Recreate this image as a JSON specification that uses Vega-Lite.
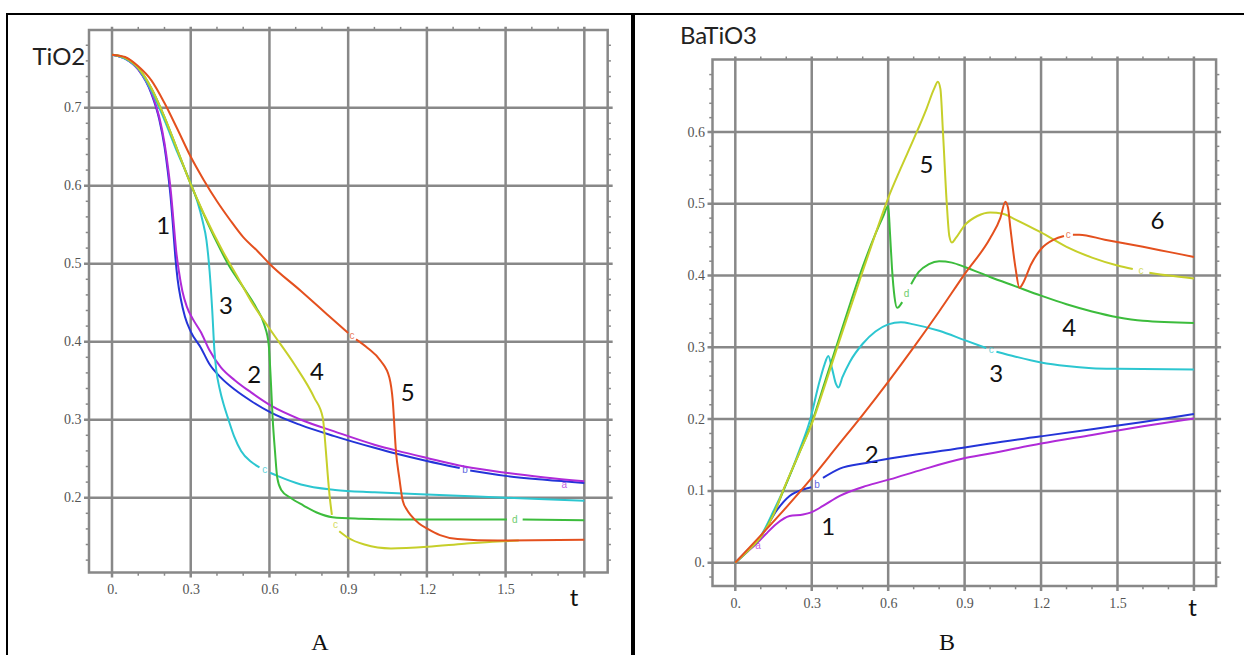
{
  "$schema": "https://vega.github.io/schema/vega-lite/v6.json",
  "background": "white",
  "padding": {"left": 6, "top": 13, "right": 0, "bottom": 0},
  "spacing": 0,
  "config": {
    "view": {"stroke": "black", "strokeWidth": 2},
    "axis": {"grid": false, "domain": false, "ticks": false, "labelFont": "Liberation Serif", "labelFontSize": 14, "labelColor": "#555555", "titleFontWeight": "normal", "titleColor": "#222222"},
    "line": {"strokeWidth": 2}
  },
  "datasets": {
    "curvesA": [
      {"s":"blue","t":0,"v":0.768},{"s":"blue","t":0.05,"v":0.763},{"s":"blue","t":0.1,"v":0.749},{"s":"blue","t":0.15,"v":0.718},{"s":"blue","t":0.18,"v":0.685},{"s":"blue","t":0.2,"v":0.65},{"s":"blue","t":0.212,"v":0.62},{"s":"blue","t":0.222,"v":0.59},{"s":"blue","t":0.232,"v":0.55},{"s":"blue","t":0.241,"v":0.51},{"s":"blue","t":0.25,"v":0.48},{"s":"blue","t":0.262,"v":0.455},{"s":"blue","t":0.278,"v":0.432},{"s":"blue","t":0.3,"v":0.413},{"s":"blue","t":0.339,"v":0.392},{"s":"blue","t":0.37,"v":0.372},{"s":"blue","t":0.415,"v":0.354},{"s":"blue","t":0.47,"v":0.338},{"s":"blue","t":0.53,"v":0.324},{"s":"blue","t":0.606,"v":0.309},{"s":"blue","t":0.72,"v":0.293},{"s":"blue","t":0.847,"v":0.279},{"s":"blue","t":1.0,"v":0.264},{"s":"blue","t":1.089,"v":0.256},{"s":"blue","t":1.2,"v":0.247},{"s":"blue","t":1.325,"v":0.238},{"s":"blue","g":2,"t":1.365,"v":0.235},{"s":"blue","g":2,"t":1.5,"v":0.228},{"s":"blue","g":2,"t":1.65,"v":0.223},{"s":"blue","g":2,"t":1.8,"v":0.219},
      {"s":"purple","t":0,"v":0.768},{"s":"purple","t":0.05,"v":0.763},{"s":"purple","t":0.1,"v":0.749},{"s":"purple","t":0.15,"v":0.72},{"s":"purple","t":0.18,"v":0.688},{"s":"purple","t":0.2,"v":0.655},{"s":"purple","t":0.214,"v":0.622},{"s":"purple","t":0.225,"v":0.59},{"s":"purple","t":0.235,"v":0.552},{"s":"purple","t":0.245,"v":0.515},{"s":"purple","t":0.255,"v":0.49},{"s":"purple","t":0.268,"v":0.465},{"s":"purple","t":0.285,"v":0.445},{"s":"purple","t":0.31,"v":0.428},{"s":"purple","t":0.339,"v":0.412},{"s":"purple","t":0.37,"v":0.39},{"s":"purple","t":0.415,"v":0.367},{"s":"purple","t":0.47,"v":0.35},{"s":"purple","t":0.53,"v":0.335},{"s":"purple","t":0.606,"v":0.318},{"s":"purple","t":0.72,"v":0.3},{"s":"purple","t":0.847,"v":0.285},{"s":"purple","t":1.0,"v":0.268},{"s":"purple","t":1.089,"v":0.26},{"s":"purple","t":1.2,"v":0.251},{"s":"purple","t":1.343,"v":0.24},{"s":"purple","t":1.5,"v":0.232},{"s":"purple","t":1.65,"v":0.226},{"s":"purple","t":1.8,"v":0.221},
      {"s":"cyan","t":0,"v":0.768},{"s":"cyan","t":0.05,"v":0.763},{"s":"cyan","t":0.1,"v":0.75},{"s":"cyan","t":0.15,"v":0.722},{"s":"cyan","t":0.2,"v":0.684},{"s":"cyan","t":0.25,"v":0.642},{"s":"cyan","t":0.3,"v":0.603},{"s":"cyan","t":0.325,"v":0.58},{"s":"cyan","t":0.345,"v":0.555},{"s":"cyan","t":0.36,"v":0.53},{"s":"cyan","t":0.372,"v":0.49},{"s":"cyan","t":0.382,"v":0.44},{"s":"cyan","t":0.39,"v":0.39},{"s":"cyan","t":0.398,"v":0.362},{"s":"cyan","t":0.41,"v":0.34},{"s":"cyan","t":0.425,"v":0.32},{"s":"cyan","t":0.441,"v":0.303},{"s":"cyan","t":0.465,"v":0.279},{"s":"cyan","t":0.492,"v":0.26},{"s":"cyan","t":0.53,"v":0.246},{"s":"cyan","t":0.562,"v":0.239},{"s":"cyan","g":2,"t":0.602,"v":0.232},{"s":"cyan","g":2,"t":0.63,"v":0.228},{"s":"cyan","g":2,"t":0.72,"v":0.217},{"s":"cyan","g":2,"t":0.85,"v":0.21},{"s":"cyan","g":2,"t":1.0,"v":0.207},{"s":"cyan","g":2,"t":1.2,"v":0.204},{"s":"cyan","g":2,"t":1.5,"v":0.2},{"s":"cyan","g":2,"t":1.8,"v":0.196},
      {"s":"green","t":0,"v":0.768},{"s":"green","t":0.05,"v":0.764},{"s":"green","t":0.1,"v":0.751},{"s":"green","t":0.15,"v":0.725},{"s":"green","t":0.2,"v":0.688},{"s":"green","t":0.25,"v":0.645},{"s":"green","t":0.3,"v":0.602},{"s":"green","t":0.35,"v":0.563},{"s":"green","t":0.4,"v":0.527},{"s":"green","t":0.45,"v":0.495},{"s":"green","t":0.5,"v":0.47},{"s":"green","t":0.549,"v":0.444},{"s":"green","t":0.58,"v":0.422},{"s":"green","t":0.597,"v":0.397},{"s":"green","t":0.606,"v":0.345},{"s":"green","t":0.612,"v":0.303},{"s":"green","t":0.621,"v":0.26},{"s":"green","t":0.63,"v":0.225},{"s":"green","t":0.645,"v":0.21},{"s":"green","t":0.68,"v":0.2},{"s":"green","t":0.73,"v":0.19},{"s":"green","t":0.78,"v":0.181},{"s":"green","t":0.84,"v":0.175},{"s":"green","t":0.95,"v":0.173},{"s":"green","t":1.1,"v":0.172},{"s":"green","t":1.3,"v":0.172},{"s":"green","t":1.505,"v":0.172},{"s":"green","g":2,"t":1.565,"v":0.172},{"s":"green","g":2,"t":1.8,"v":0.171},
      {"s":"yellow","t":0,"v":0.768},{"s":"yellow","t":0.05,"v":0.764},{"s":"yellow","t":0.1,"v":0.751},{"s":"yellow","t":0.15,"v":0.725},{"s":"yellow","t":0.2,"v":0.688},{"s":"yellow","t":0.25,"v":0.645},{"s":"yellow","t":0.3,"v":0.602},{"s":"yellow","t":0.35,"v":0.564},{"s":"yellow","t":0.422,"v":0.516},{"s":"yellow","t":0.48,"v":0.482},{"s":"yellow","t":0.53,"v":0.452},{"s":"yellow","t":0.606,"v":0.414},{"s":"yellow","t":0.695,"v":0.371},{"s":"yellow","t":0.771,"v":0.328},{"s":"yellow","t":0.803,"v":0.303},{"s":"yellow","t":0.815,"v":0.26},{"s":"yellow","t":0.822,"v":0.23},{"s":"yellow","t":0.83,"v":0.2},{"s":"yellow","t":0.838,"v":0.178},{"s":"yellow","g":2,"t":0.866,"v":0.157},{"s":"yellow","g":2,"t":0.898,"v":0.149},{"s":"yellow","g":2,"t":0.962,"v":0.14},{"s":"yellow","g":2,"t":1.063,"v":0.135},{"s":"yellow","g":2,"t":1.203,"v":0.137},{"s":"yellow","g":2,"t":1.343,"v":0.141},{"s":"yellow","g":2,"t":1.47,"v":0.144},{"s":"yellow","g":2,"t":1.55,"v":0.145},
      {"s":"red","t":0,"v":0.768},{"s":"red","t":0.05,"v":0.765},{"s":"red","t":0.1,"v":0.753},{"s":"red","t":0.15,"v":0.735},{"s":"red","t":0.2,"v":0.706},{"s":"red","t":0.25,"v":0.672},{"s":"red","t":0.3,"v":0.637},{"s":"red","t":0.35,"v":0.607},{"s":"red","t":0.4,"v":0.58},{"s":"red","t":0.45,"v":0.556},{"s":"red","t":0.5,"v":0.534},{"s":"red","t":0.555,"v":0.516},{"s":"red","t":0.6,"v":0.5},{"s":"red","t":0.72,"v":0.465},{"s":"red","t":0.82,"v":0.435},{"s":"red","t":0.9,"v":0.411},{"s":"red","g":2,"t":0.93,"v":0.403},{"s":"red","g":2,"t":0.974,"v":0.392},{"s":"red","g":2,"t":1.025,"v":0.375},{"s":"red","g":2,"t":1.057,"v":0.354},{"s":"red","g":2,"t":1.07,"v":0.324},{"s":"red","g":2,"t":1.082,"v":0.26},{"s":"red","g":2,"t":1.095,"v":0.225},{"s":"red","g":2,"t":1.108,"v":0.196},{"s":"red","g":2,"t":1.125,"v":0.184},{"s":"red","g":2,"t":1.14,"v":0.177},{"s":"red","g":2,"t":1.17,"v":0.167},{"s":"red","g":2,"t":1.203,"v":0.16},{"s":"red","g":2,"t":1.25,"v":0.152},{"s":"red","g":2,"t":1.317,"v":0.147},{"s":"red","g":2,"t":1.47,"v":0.145},{"s":"red","g":2,"t":1.8,"v":0.146}
    ],
    "curvesB": [
      {"s":"purple","t":0,"v":0},{"s":"purple","t":0.05,"v":0.016},{"s":"purple","t":0.082,"v":0.026},{"s":"purple","t":0.12,"v":0.04},{"s":"purple","t":0.161,"v":0.054},{"s":"purple","t":0.213,"v":0.065},{"s":"purple","t":0.266,"v":0.067},{"s":"purple","t":0.298,"v":0.07},{"s":"purple","t":0.344,"v":0.079},{"s":"purple","t":0.41,"v":0.093},{"s":"purple","t":0.514,"v":0.107},{"s":"purple","t":0.606,"v":0.116},{"s":"purple","t":0.737,"v":0.13},{"s":"purple","t":0.894,"v":0.145},{"s":"purple","t":1.0,"v":0.152},{"s":"purple","t":1.2,"v":0.166},{"s":"purple","t":1.4,"v":0.178},{"s":"purple","t":1.6,"v":0.19},{"s":"purple","t":1.8,"v":0.201},
      {"s":"blue","t":0,"v":0},{"s":"blue","t":0.05,"v":0.018},{"s":"blue","t":0.09,"v":0.032},{"s":"blue","t":0.122,"v":0.049},{"s":"blue","t":0.161,"v":0.072},{"s":"blue","t":0.213,"v":0.093},{"s":"blue","t":0.266,"v":0.102},{"s":"blue","t":0.298,"v":0.105},{"s":"blue","g":2,"t":0.344,"v":0.118},{"s":"blue","g":2,"t":0.41,"v":0.131},{"s":"blue","g":2,"t":0.514,"v":0.139},{"s":"blue","g":2,"t":0.606,"v":0.145},{"s":"blue","g":2,"t":0.894,"v":0.16},{"s":"blue","g":2,"t":1.0,"v":0.166},{"s":"blue","g":2,"t":1.2,"v":0.176},{"s":"blue","g":2,"t":1.4,"v":0.186},{"s":"blue","g":2,"t":1.6,"v":0.196},{"s":"blue","g":2,"t":1.8,"v":0.207},
      {"s":"cyan","t":0,"v":0},{"s":"cyan","t":0.05,"v":0.017},{"s":"cyan","t":0.1,"v":0.037},{"s":"cyan","t":0.15,"v":0.072},{"s":"cyan","t":0.2,"v":0.11},{"s":"cyan","t":0.25,"v":0.155},{"s":"cyan","t":0.292,"v":0.197},{"s":"cyan","t":0.331,"v":0.253},{"s":"cyan","t":0.35,"v":0.276},{"s":"cyan","t":0.365,"v":0.288},{"s":"cyan","t":0.38,"v":0.27},{"s":"cyan","t":0.395,"v":0.249},{"s":"cyan","t":0.405,"v":0.244},{"s":"cyan","t":0.42,"v":0.258},{"s":"cyan","t":0.45,"v":0.28},{"s":"cyan","t":0.5,"v":0.305},{"s":"cyan","t":0.55,"v":0.322},{"s":"cyan","t":0.6,"v":0.332},{"s":"cyan","t":0.65,"v":0.335},{"s":"cyan","t":0.7,"v":0.332},{"s":"cyan","t":0.8,"v":0.323},{"s":"cyan","t":0.9,"v":0.31},{"s":"cyan","t":0.985,"v":0.299},{"s":"cyan","g":2,"t":1.025,"v":0.294},{"s":"cyan","g":2,"t":1.1,"v":0.287},{"s":"cyan","g":2,"t":1.2,"v":0.279},{"s":"cyan","g":2,"t":1.3,"v":0.274},{"s":"cyan","g":2,"t":1.4,"v":0.271},{"s":"cyan","g":2,"t":1.5,"v":0.27},{"s":"cyan","g":2,"t":1.8,"v":0.269},
      {"s":"green","t":0,"v":0},{"s":"green","t":0.05,"v":0.017},{"s":"green","t":0.1,"v":0.036},{"s":"green","t":0.15,"v":0.068},{"s":"green","t":0.2,"v":0.11},{"s":"green","t":0.25,"v":0.152},{"s":"green","t":0.3,"v":0.195},{"s":"green","t":0.35,"v":0.25},{"s":"green","t":0.4,"v":0.305},{"s":"green","t":0.45,"v":0.36},{"s":"green","t":0.5,"v":0.412},{"s":"green","t":0.55,"v":0.458},{"s":"green","t":0.58,"v":0.482},{"s":"green","t":0.6,"v":0.497},{"s":"green","t":0.607,"v":0.46},{"s":"green","t":0.615,"v":0.41},{"s":"green","t":0.625,"v":0.37},{"s":"green","t":0.635,"v":0.355},{"s":"green","t":0.655,"v":0.363},{"s":"green","g":2,"t":0.69,"v":0.388},{"s":"green","g":2,"t":0.72,"v":0.405},{"s":"green","g":2,"t":0.76,"v":0.416},{"s":"green","g":2,"t":0.8,"v":0.42},{"s":"green","g":2,"t":0.85,"v":0.418},{"s":"green","g":2,"t":0.9,"v":0.412},{"s":"green","g":2,"t":1.0,"v":0.398},{"s":"green","g":2,"t":1.1,"v":0.385},{"s":"green","g":2,"t":1.2,"v":0.372},{"s":"green","g":2,"t":1.3,"v":0.36},{"s":"green","g":2,"t":1.4,"v":0.35},{"s":"green","g":2,"t":1.5,"v":0.342},{"s":"green","g":2,"t":1.6,"v":0.337},{"s":"green","g":2,"t":1.8,"v":0.334},
      {"s":"yellow","t":0,"v":0},{"s":"yellow","t":0.05,"v":0.017},{"s":"yellow","t":0.1,"v":0.036},{"s":"yellow","t":0.15,"v":0.067},{"s":"yellow","t":0.187,"v":0.1},{"s":"yellow","t":0.25,"v":0.152},{"s":"yellow","t":0.3,"v":0.193},{"s":"yellow","t":0.357,"v":0.253},{"s":"yellow","t":0.4,"v":0.3},{"s":"yellow","t":0.45,"v":0.353},{"s":"yellow","t":0.5,"v":0.406},{"s":"yellow","t":0.55,"v":0.458},{"s":"yellow","t":0.6,"v":0.508},{"s":"yellow","t":0.65,"v":0.55},{"s":"yellow","t":0.7,"v":0.59},{"s":"yellow","t":0.75,"v":0.632},{"s":"yellow","t":0.78,"v":0.66},{"s":"yellow","t":0.795,"v":0.67},{"s":"yellow","t":0.805,"v":0.66},{"s":"yellow","t":0.815,"v":0.6},{"s":"yellow","t":0.83,"v":0.5},{"s":"yellow","t":0.84,"v":0.455},{"s":"yellow","t":0.85,"v":0.446},{"s":"yellow","t":0.865,"v":0.452},{"s":"yellow","t":0.9,"v":0.47},{"s":"yellow","t":0.95,"v":0.483},{"s":"yellow","t":1.0,"v":0.488},{"s":"yellow","t":1.05,"v":0.486},{"s":"yellow","t":1.1,"v":0.478},{"s":"yellow","t":1.2,"v":0.46},{"s":"yellow","t":1.3,"v":0.44},{"s":"yellow","t":1.4,"v":0.425},{"s":"yellow","t":1.5,"v":0.414},{"s":"yellow","t":1.56,"v":0.409},{"s":"yellow","g":2,"t":1.625,"v":0.404},{"s":"yellow","g":2,"t":1.7,"v":0.4},{"s":"yellow","g":2,"t":1.8,"v":0.396},
      {"s":"red","t":0,"v":0},{"s":"red","t":0.1,"v":0.038},{"s":"red","t":0.2,"v":0.077},{"s":"red","t":0.3,"v":0.118},{"s":"red","t":0.4,"v":0.162},{"s":"red","t":0.5,"v":0.206},{"s":"red","t":0.6,"v":0.252},{"s":"red","t":0.7,"v":0.3},{"s":"red","t":0.8,"v":0.35},{"s":"red","t":0.9,"v":0.402},{"s":"red","t":1.0,"v":0.452},{"s":"red","t":1.04,"v":0.48},{"s":"red","t":1.06,"v":0.503},{"s":"red","t":1.07,"v":0.495},{"s":"red","t":1.08,"v":0.465},{"s":"red","t":1.1,"v":0.41},{"s":"red","t":1.115,"v":0.383},{"s":"red","t":1.13,"v":0.39},{"s":"red","t":1.16,"v":0.415},{"s":"red","t":1.2,"v":0.437},{"s":"red","t":1.25,"v":0.45},{"s":"red","t":1.29,"v":0.455},{"s":"red","g":2,"t":1.325,"v":0.457},{"s":"red","g":2,"t":1.35,"v":0.457},{"s":"red","g":2,"t":1.45,"v":0.45},{"s":"red","g":2,"t":1.6,"v":0.44},{"s":"red","g":2,"t":1.7,"v":0.433},{"s":"red","g":2,"t":1.8,"v":0.426}
    ],
    "labelsA": [
      {"t":0.195,"v":0.547,"k":"1"},{"t":0.434,"v":0.444,"k":"3"},{"t":0.542,"v":0.356,"k":"2"},{"t":0.781,"v":0.36,"k":"4"},{"t":1.127,"v":0.333,"k":"5"},{"t":1.761,"v":0.0701,"k":"t"}
    ],
    "labelsB": [
      {"t":0.365,"v":0.048,"k":"1"},{"t":0.535,"v":0.148,"k":"2"},{"t":1.024,"v":0.262,"k":"3"},{"t":1.31,"v":0.326,"k":"4"},{"t":0.75,"v":0.552,"k":"5"},{"t":1.657,"v":0.475,"k":"6"},{"t":1.795,"v":-0.064,"k":"t"}
    ],
    "tagsA": [
      {"s":"cyan","t":0.582,"v":0.235,"k":"c"},{"s":"yellow","t":0.852,"v":0.165,"k":"c"},{"s":"green","t":1.535,"v":0.172,"k":"d"},{"s":"blue","t":1.345,"v":0.235,"k":"b"},{"s":"red","t":0.915,"v":0.407,"k":"c"},{"s":"purple","t":1.724,"v":0.216,"k":"a"}
    ],
    "tagsB": [
      {"s":"blue","t":0.321,"v":0.108,"k":"b"},{"s":"green","t":0.672,"v":0.375,"k":"d"},{"s":"cyan","t":1.005,"v":0.296,"k":"c"},{"s":"yellow","t":1.592,"v":0.407,"k":"c"},{"s":"red","t":1.307,"v":0.456,"k":"c"},{"s":"purple","t":0.089,"v":0.023,"k":"a"}
    ],
    "minorT": [{"m":0.1},{"m":0.2},{"m":0.4},{"m":0.5},{"m":0.7},{"m":0.8},{"m":1.0},{"m":1.1},{"m":1.3},{"m":1.4},{"m":1.6},{"m":1.7}],
    "minorA": [{"m":0.12},{"m":0.14},{"m":0.16},{"m":0.18},{"m":0.22},{"m":0.24},{"m":0.26},{"m":0.28},{"m":0.32},{"m":0.34},{"m":0.36},{"m":0.38},{"m":0.42},{"m":0.44},{"m":0.46},{"m":0.48},{"m":0.52},{"m":0.54},{"m":0.56},{"m":0.58},{"m":0.62},{"m":0.64},{"m":0.66},{"m":0.68},{"m":0.72},{"m":0.74},{"m":0.76},{"m":0.78}],
    "minorB": [{"m":-0.02},{"m":0.02},{"m":0.04},{"m":0.06},{"m":0.08},{"m":0.12},{"m":0.14},{"m":0.16},{"m":0.18},{"m":0.22},{"m":0.24},{"m":0.26},{"m":0.28},{"m":0.32},{"m":0.34},{"m":0.36},{"m":0.38},{"m":0.42},{"m":0.44},{"m":0.46},{"m":0.48},{"m":0.52},{"m":0.54},{"m":0.56},{"m":0.58},{"m":0.62},{"m":0.64},{"m":0.66},{"m":0.68}]
  },
  "hconcat": [
    {
      "width": 625,
      "height": 660,
      "layer": [
        {
          "data": {"values": [{}]},
          "mark": {"type": "rect", "fillOpacity": 0, "stroke": "#888888", "strokeWidth": 2.5},
          "encoding": {
            "x": {"datum": -0.0877, "type": "quantitative", "scale": {"domain": [-0.4002, 1.9817], "nice": false, "zero": false}},
            "x2": {"datum": 1.889},
            "y": {"datum": 0.1042, "type": "quantitative", "scale": {"domain": [-0.026, 0.8201], "nice": false, "zero": false}},
            "y2": {"datum": 0.7996}
          }
        },
        {
          "data": {"values": [{"g":0},{"g":0.3},{"g":0.6},{"g":0.9},{"g":1.2},{"g":1.5},{"g":1.8}]},
          "mark": {"type": "rule", "stroke": "#888888", "strokeWidth": 2.5},
          "encoding": {
            "x": {"field": "g", "type": "quantitative", "scale": {"domain": [-0.4002, 1.9817], "nice": false, "zero": false}},
            "y": {"datum": 0.0978, "type": "quantitative", "scale": {"domain": [-0.026, 0.8201], "nice": false, "zero": false}},
            "y2": {"datum": 0.8036}
          }
        },
        {
          "data": {"values": [{"g":0.2},{"g":0.3},{"g":0.4},{"g":0.5},{"g":0.6},{"g":0.7}]},
          "mark": {"type": "rule", "stroke": "#888888", "strokeWidth": 2.5},
          "encoding": {
            "y": {"field": "g", "type": "quantitative", "scale": {"domain": [-0.026, 0.8201], "nice": false, "zero": false}},
            "x": {"datum": -0.1067, "type": "quantitative", "scale": {"domain": [-0.4002, 1.9817], "nice": false, "zero": false}},
            "x2": {"datum": 1.908}
          }
        },
        {
          "data": {"name": "minorT"},
          "mark": {"type": "rule", "stroke": "#888888", "strokeWidth": 1.5},
          "encoding": {
            "x": {"field": "m", "type": "quantitative", "scale": {"domain": [-0.4002, 1.9817], "nice": false, "zero": false}},
            "y": {"datum": 0.1000, "type": "quantitative", "scale": {"domain": [-0.026, 0.8201], "nice": false, "zero": false}},
            "y2": {"datum": 0.1042}
          }
        },
        {
          "data": {"name": "minorT"},
          "mark": {"type": "rule", "stroke": "#888888", "strokeWidth": 1.5},
          "encoding": {
            "x": {"field": "m", "type": "quantitative", "scale": {"domain": [-0.4002, 1.9817], "nice": false, "zero": false}},
            "y": {"datum": 0.7996, "type": "quantitative", "scale": {"domain": [-0.026, 0.8201], "nice": false, "zero": false}},
            "y2": {"datum": 0.8036}
          }
        },
        {
          "data": {"name": "minorA"},
          "mark": {"type": "rule", "stroke": "#888888", "strokeWidth": 1.5},
          "encoding": {
            "y": {"field": "m", "type": "quantitative", "scale": {"domain": [-0.026, 0.8201], "nice": false, "zero": false}},
            "x": {"datum": -0.1001, "type": "quantitative", "scale": {"domain": [-0.4002, 1.9817], "nice": false, "zero": false}},
            "x2": {"datum": -0.0877}
          }
        },
        {
          "data": {"name": "minorA"},
          "mark": {"type": "rule", "stroke": "#888888", "strokeWidth": 1.5},
          "encoding": {
            "y": {"field": "m", "type": "quantitative", "scale": {"domain": [-0.026, 0.8201], "nice": false, "zero": false}},
            "x": {"datum": 1.889, "type": "quantitative", "scale": {"domain": [-0.4002, 1.9817], "nice": false, "zero": false}},
            "x2": {"datum": 1.9014}
          }
        },
        {
          "data": {"name": "labelsA"},
          "mark": {"type": "text", "font": "Lato", "fontSize": 24, "color": "#111111", "align": "center", "baseline": "middle"},
          "encoding": {
            "x": {"field": "t", "type": "quantitative", "scale": {"domain": [-0.4002, 1.9817], "nice": false, "zero": false}},
            "y": {"field": "v", "type": "quantitative", "scale": {"domain": [-0.026, 0.8201], "nice": false, "zero": false}},
            "text": {"field": "k"}
          }
        },
        {
          "data": {"name": "tagsA"},
          "mark": {"type": "text", "font": "Liberation Sans", "fontSize": 10, "align": "center", "baseline": "middle", "opacity": 0.75},
          "encoding": {
            "x": {"field": "t", "type": "quantitative", "scale": {"domain": [-0.4002, 1.9817], "nice": false, "zero": false}},
            "y": {"field": "v", "type": "quantitative", "scale": {"domain": [-0.026, 0.8201], "nice": false, "zero": false}},
            "text": {"field": "k"},
            "color": {"field": "s", "type": "nominal", "legend": null,
              "scale": {"domain": ["blue","purple","cyan","green","yellow","red"], "range": ["#2434d8","#b02ad8","#2cc6d0","#3cbc3c","#c6cf2a","#e4501e"]}}
          }
        },
        {
          "data": {"name": "curvesA"},
          "mark": {"type": "line", "interpolate": "monotone", "strokeWidth": 2},
          "encoding": {
            "x": {"field": "t", "type": "quantitative", "scale": {"domain": [-0.4002, 1.9817], "nice": false, "zero": false},
              "axis": {"orient": "bottom", "offset": -102, "values": [0,0.3,0.6,0.9,1.2,1.5], "ticks": false, "labelPadding": 10.5, "labelFontSize": 14,
                "labelExpr": "datum.value == 0 ? '0.' : format(datum.value, '.1f')",
                "title": "A", "titleFont": "Liberation Serif", "titleFontSize": 24, "titleColor": "#111111", "titleBaseline": "alphabetic", "titleY": 77}},
            "y": {"field": "v", "type": "quantitative", "scale": {"domain": [-0.026, 0.8201], "nice": false, "zero": false},
              "axis": {"orient": "left", "offset": -82, "values": [0.2,0.3,0.4,0.5,0.6,0.7], "ticks": false, "labelPadding": 8, "labelFontSize": 14,
                "labelExpr": "format(datum.value, '.1f')",
                "title": "TiO2", "titleFont": "Lato", "titleFontSize": 24, "titleAngle": 0, "titleAlign": "left", "titleBaseline": "alphabetic", "titleX": -57, "titleY": 50}},
            "color": {"field": "s", "type": "nominal", "legend": null,
              "scale": {"domain": ["blue","purple","cyan","green","yellow","red"], "range": ["#2434d8","#b02ad8","#2cc6d0","#3cbc3c","#c6cf2a","#e4501e"]}},
            "detail": {"field": "g"}
          }
        }
      ]
    },
    {
      "width": 625,
      "height": 660,
      "layer": [
        {
          "data": {"values": [{}]},
          "mark": {"type": "rect", "fillOpacity": 0, "stroke": "#888888", "strokeWidth": 2.5},
          "encoding": {
            "x": {"datum": -0.0895, "type": "quantitative", "scale": {"domain": [-0.3976, 2.0554], "nice": false, "zero": false}},
            "x2": {"datum": 1.887},
            "y": {"datum": -0.0325, "type": "quantitative", "scale": {"domain": [-0.1551, 0.7644], "nice": false, "zero": false}},
            "y2": {"datum": 0.701}
          }
        },
        {
          "data": {"values": [{"g":0},{"g":0.3},{"g":0.6},{"g":0.9},{"g":1.2},{"g":1.5},{"g":1.8}]},
          "mark": {"type": "rule", "stroke": "#888888", "strokeWidth": 2.5},
          "encoding": {
            "x": {"field": "g", "type": "quantitative", "scale": {"domain": [-0.3976, 2.0554], "nice": false, "zero": false}},
            "y": {"datum": -0.0395, "type": "quantitative", "scale": {"domain": [-0.1551, 0.7644], "nice": false, "zero": false}},
            "y2": {"datum": 0.7052}
          }
        },
        {
          "data": {"values": [{"g":0},{"g":0.1},{"g":0.2},{"g":0.3},{"g":0.4},{"g":0.5},{"g":0.6}]},
          "mark": {"type": "rule", "stroke": "#888888", "strokeWidth": 2.5},
          "encoding": {
            "y": {"field": "g", "type": "quantitative", "scale": {"domain": [-0.1551, 0.7644], "nice": false, "zero": false}},
            "x": {"datum": -0.1091, "type": "quantitative", "scale": {"domain": [-0.3976, 2.0554], "nice": false, "zero": false}},
            "x2": {"datum": 1.9066}
          }
        },
        {
          "data": {"name": "minorT"},
          "mark": {"type": "rule", "stroke": "#888888", "strokeWidth": 1.5},
          "encoding": {
            "x": {"field": "m", "type": "quantitative", "scale": {"domain": [-0.3976, 2.0554], "nice": false, "zero": false}},
            "y": {"datum": -0.0371, "type": "quantitative", "scale": {"domain": [-0.1551, 0.7644], "nice": false, "zero": false}},
            "y2": {"datum": -0.0325}
          }
        },
        {
          "data": {"name": "minorT"},
          "mark": {"type": "rule", "stroke": "#888888", "strokeWidth": 1.5},
          "encoding": {
            "x": {"field": "m", "type": "quantitative", "scale": {"domain": [-0.3976, 2.0554], "nice": false, "zero": false}},
            "y": {"datum": 0.701, "type": "quantitative", "scale": {"domain": [-0.1551, 0.7644], "nice": false, "zero": false}},
            "y2": {"datum": 0.7052}
          }
        },
        {
          "data": {"name": "minorB"},
          "mark": {"type": "rule", "stroke": "#888888", "strokeWidth": 1.5},
          "encoding": {
            "y": {"field": "m", "type": "quantitative", "scale": {"domain": [-0.1551, 0.7644], "nice": false, "zero": false}},
            "x": {"datum": -0.1023, "type": "quantitative", "scale": {"domain": [-0.3976, 2.0554], "nice": false, "zero": false}},
            "x2": {"datum": -0.0895}
          }
        },
        {
          "data": {"name": "minorB"},
          "mark": {"type": "rule", "stroke": "#888888", "strokeWidth": 1.5},
          "encoding": {
            "y": {"field": "m", "type": "quantitative", "scale": {"domain": [-0.1551, 0.7644], "nice": false, "zero": false}},
            "x": {"datum": 1.887, "type": "quantitative", "scale": {"domain": [-0.3976, 2.0554], "nice": false, "zero": false}},
            "x2": {"datum": 1.8998}
          }
        },
        {
          "data": {"name": "labelsB"},
          "mark": {"type": "text", "font": "Lato", "fontSize": 24, "color": "#111111", "align": "center", "baseline": "middle"},
          "encoding": {
            "x": {"field": "t", "type": "quantitative", "scale": {"domain": [-0.3976, 2.0554], "nice": false, "zero": false}},
            "y": {"field": "v", "type": "quantitative", "scale": {"domain": [-0.1551, 0.7644], "nice": false, "zero": false}},
            "text": {"field": "k"}
          }
        },
        {
          "data": {"name": "tagsB"},
          "mark": {"type": "text", "font": "Liberation Sans", "fontSize": 10, "align": "center", "baseline": "middle", "opacity": 0.75},
          "encoding": {
            "x": {"field": "t", "type": "quantitative", "scale": {"domain": [-0.3976, 2.0554], "nice": false, "zero": false}},
            "y": {"field": "v", "type": "quantitative", "scale": {"domain": [-0.1551, 0.7644], "nice": false, "zero": false}},
            "text": {"field": "k"},
            "color": {"field": "s", "type": "nominal", "legend": null,
              "scale": {"domain": ["blue","purple","cyan","green","yellow","red"], "range": ["#2434d8","#b02ad8","#2cc6d0","#3cbc3c","#c6cf2a","#e4501e"]}}
          }
        },
        {
          "data": {"name": "curvesB"},
          "mark": {"type": "line", "interpolate": "monotone", "strokeWidth": 2},
          "encoding": {
            "x": {"field": "t", "type": "quantitative", "scale": {"domain": [-0.3976, 2.0554], "nice": false, "zero": false},
              "axis": {"orient": "bottom", "offset": -88.5, "values": [0,0.3,0.6,0.9,1.2,1.5], "ticks": false, "labelPadding": 10.5, "labelFontSize": 14,
                "labelExpr": "datum.value == 0 ? '0.' : format(datum.value, '.1f')",
                "title": "B", "titleFont": "Liberation Serif", "titleFontSize": 24, "titleColor": "#111111", "titleBaseline": "alphabetic", "titleY": 63.5}},
            "y": {"field": "v", "type": "quantitative", "scale": {"domain": [-0.1551, 0.7644], "nice": false, "zero": false},
              "axis": {"orient": "left", "offset": -78.5, "values": [0,0.1,0.2,0.3,0.4,0.5,0.6], "ticks": false, "labelPadding": 8, "labelFontSize": 14,
                "labelExpr": "datum.value == 0 ? '0.' : format(datum.value, '.1f')",
                "title": "BaTiO3", "titleFont": "Lato", "titleFontSize": 24, "titleAngle": 0, "titleAlign": "left", "titleBaseline": "alphabetic", "titleX": -33, "titleY": 29}},
            "color": {"field": "s", "type": "nominal", "legend": null,
              "scale": {"domain": ["blue","purple","cyan","green","yellow","red"], "range": ["#2434d8","#b02ad8","#2cc6d0","#3cbc3c","#c6cf2a","#e4501e"]}},
            "detail": {"field": "g"}
          }
        }
      ]
    }
  ]
}
